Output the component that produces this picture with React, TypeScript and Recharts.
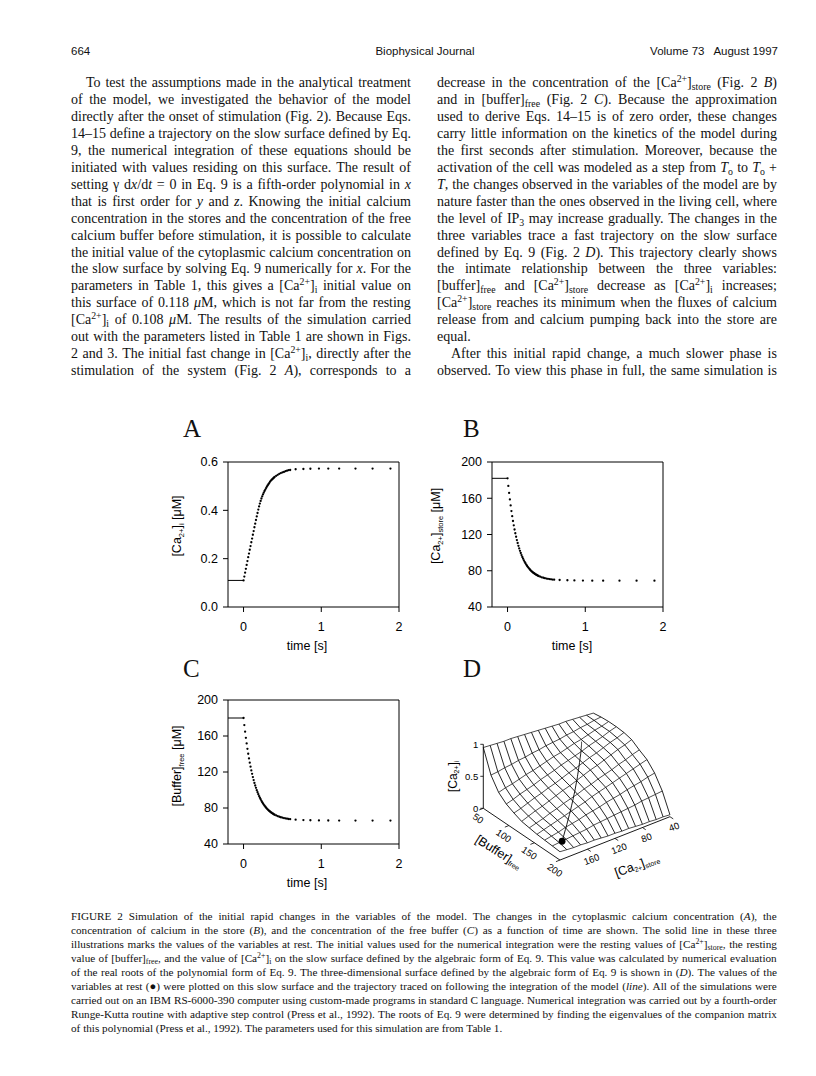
import React from "react";
import { ScatterChart, Scatter, XAxis, YAxis, ReferenceLine } from "recharts";

// ---- Fig. 2 A-C: time courses after stimulation (adaptive step, dense in the first 0.6 s)
const times = [
  0, 0.01, 0.02, 0.03, 0.04, 0.05, 0.06, 0.07, 0.08, 0.09, 0.1, 0.11, 0.12, 0.13, 0.14, 0.15, 0.16, 0.17,
  0.18, 0.19, 0.2, 0.21, 0.22, 0.23, 0.24, 0.25, 0.26, 0.27, 0.28, 0.29, 0.3, 0.31, 0.32, 0.33, 0.34, 0.35,
  0.36, 0.37, 0.38, 0.39, 0.4, 0.42, 0.44, 0.46, 0.48, 0.5, 0.52, 0.54, 0.56, 0.58, 0.6, 0.67, 0.77, 0.86,
  0.97, 1.09, 1.23, 1.44, 1.66, 1.89,
];
// [Ca2+]i, uM
const caCyto = [
  0.11, 0.126, 0.142, 0.158, 0.174, 0.19, 0.206, 0.221, 0.237, 0.252, 0.268, 0.283, 0.299, 0.314, 0.33, 0.345,
  0.36, 0.375, 0.389, 0.403, 0.416, 0.428, 0.439, 0.449, 0.458, 0.466, 0.473, 0.48, 0.486, 0.492, 0.498, 0.503,
  0.508, 0.513, 0.518, 0.522, 0.526, 0.529, 0.532, 0.535, 0.538, 0.543, 0.547, 0.551, 0.554, 0.557, 0.559,
  0.562, 0.564, 0.566, 0.567, 0.57, 0.571, 0.572, 0.573, 0.573, 0.573, 0.573, 0.573, 0.573,
];
// [Ca2+]store, uM
const caStore = [
  182, 173.6, 165.9, 158.7, 152.1, 145.9, 140.2, 134.9, 130.1, 125.5, 121.4, 117.5, 113.9, 110.6, 107.5, 104.6,
  102, 99.6, 97.3, 95.2, 93.3, 91.5, 89.8, 88.3, 86.8, 85.5, 84.3, 83.2, 82.1, 81.1, 80.2, 79.4, 78.6, 77.9,
  77.3, 76.7, 76.1, 75.6, 75.1, 74.6, 74.2, 73.5, 72.8, 72.3, 71.8, 71.4, 71.1, 70.8, 70.5, 70.3, 70.1, 69.8,
  69.5, 69.3, 69.2, 69.1, 69, 69, 69, 69,
];
// [Buffer]free, uM
const bufferFree = [
  180, 172.1, 164.8, 158, 151.7, 145.8, 140.3, 135.1, 130.4, 125.9, 121.8, 118, 114.4, 111, 107.9, 105, 102.4,
  99.8, 97.5, 95.3, 93.3, 91.4, 89.7, 88, 86.5, 85.1, 83.8, 82.6, 81.4, 80.4, 79.4, 78.5, 77.6, 76.8, 76.1,
  75.4, 74.7, 74.1, 73.6, 73, 72.5, 71.7, 70.9, 70.3, 69.7, 69.2, 68.8, 68.4, 68.1, 67.8, 67.6, 67, 66.6, 66.4,
  66.2, 66.1, 66, 66, 66, 66,
];
const restTimes = [-0.2, 0];
const restCa = 0.11;
const restStore = 182;
const restBuffer = 180;

const timeTicks = [0, 1, 2];
const caTicks = [0, 0.2, 0.4, 0.6];
const concTicks = [40, 80, 120, 160, 200];

// ---- Fig. 2 D: slow surface, [Ca2+]i over ([Buffer]free, [Ca2+]store)
const meshBuffer = [50, 65, 80, 95, 110, 125, 140, 155, 170, 185, 200];
const meshStore = [200, 190, 180, 170, 160, 150, 140, 130, 120, 110, 100, 90, 80, 70, 60, 50, 40];
const meshCa = [
  [0.95, 0.94, 0.93, 0.92, 0.92, 0.91, 0.9, 0.89, 0.88, 0.87, 0.86, 0.85, 0.85, 0.84, 0.83, 0.82, 0.81],
  [0.6, 0.61, 0.63, 0.64, 0.66, 0.67, 0.69, 0.7, 0.72, 0.73, 0.74, 0.76, 0.77, 0.79, 0.8, 0.82, 0.83],
  [0.41, 0.44, 0.46, 0.49, 0.52, 0.54, 0.57, 0.6, 0.63, 0.65, 0.68, 0.71, 0.73, 0.76, 0.79, 0.81, 0.84],
  [0.31, 0.34, 0.38, 0.41, 0.44, 0.48, 0.51, 0.54, 0.58, 0.61, 0.64, 0.67, 0.71, 0.74, 0.77, 0.81, 0.84],
  [0.25, 0.28, 0.32, 0.36, 0.39, 0.43, 0.46, 0.5, 0.54, 0.57, 0.61, 0.65, 0.68, 0.72, 0.76, 0.79, 0.83],
  [0.2, 0.24, 0.28, 0.31, 0.35, 0.39, 0.43, 0.46, 0.5, 0.54, 0.58, 0.61, 0.65, 0.69, 0.73, 0.76, 0.8],
  [0.18, 0.21, 0.24, 0.28, 0.31, 0.35, 0.38, 0.41, 0.45, 0.48, 0.52, 0.55, 0.58, 0.62, 0.65, 0.69, 0.72],
  [0.16, 0.19, 0.22, 0.25, 0.28, 0.31, 0.34, 0.37, 0.41, 0.44, 0.47, 0.5, 0.53, 0.56, 0.59, 0.62, 0.65],
  [0.15, 0.17, 0.19, 0.22, 0.24, 0.26, 0.29, 0.31, 0.33, 0.36, 0.38, 0.4, 0.43, 0.45, 0.47, 0.5, 0.52],
  [0.14, 0.15, 0.16, 0.17, 0.18, 0.19, 0.21, 0.22, 0.23, 0.24, 0.25, 0.26, 0.27, 0.29, 0.3, 0.31, 0.32],
  [0.13, 0.12, 0.11, 0.11, 0.1, 0.1, 0.09, 0.08, 0.08, 0.07, 0.07, 0.06, 0.05, 0.05, 0.04, 0.04, 0.03],
];
const zTicks = [0, 0.5, 1];
const bufferTicks = [50, 100, 150, 200];
const storeTicks = [160, 120, 80, 40];

// ---- page text
const leftColumn = [
  "To test the assumptions made in the analytical treatment",
  "of the model, we investigated the behavior of the model",
  "directly after the onset of stimulation (Fig. 2). Because Eqs.",
  "14–15 define a trajectory on the slow surface defined by Eq.",
  "9, the numerical integration of these equations should be",
  "initiated with values residing on this surface. The result of",
  "setting γ d*x*/d*t* = 0 in Eq. 9 is a fifth-order polynomial in *x*",
  "that is first order for *y* and *z*. Knowing the initial calcium",
  "concentration in the stores and the concentration of the free",
  "calcium buffer before stimulation, it is possible to calculate",
  "the initial value of the cytoplasmic calcium concentration on",
  "the slow surface by solving Eq. 9 numerically for *x*. For the",
  "parameters in Table 1, this gives a [Ca^{2+}]_{i} initial value on",
  "this surface of 0.118 *μ*M, which is not far from the resting",
  "[Ca^{2+}]_{i} of 0.108 *μ*M. The results of the simulation carried",
  "out with the parameters listed in Table 1 are shown in Figs.",
  "2 and 3. The initial fast change in [Ca^{2+}]_{i}, directly after the",
  "stimulation of the system (Fig. 2 *A*), corresponds to a",
];
const rightColumn = [
  "decrease in the concentration of the [Ca^{2+}]_{store} (Fig. 2 *B*)",
  "and in [buffer]_{free} (Fig. 2 *C*). Because the approximation",
  "used to derive Eqs. 14–15 is of zero order, these changes",
  "carry little information on the kinetics of the model during",
  "the first seconds after stimulation. Moreover, because the",
  "activation of the cell was modeled as a step from *T*_{o} to *T*_{o} +",
  "*T*, the changes observed in the variables of the model are by",
  "nature faster than the ones observed in the living cell, where",
  "the level of IP_{3} may increase gradually. The changes in the",
  "three variables trace a fast trajectory on the slow surface",
  "defined by Eq. 9 (Fig. 2 *D*). This trajectory clearly shows",
  "the intimate relationship between the three variables:",
  "[buffer]_{free} and [Ca^{2+}]_{store} decrease as [Ca^{2+}]_{i} increases;",
  "[Ca^{2+}]_{store} reaches its minimum when the fluxes of calcium",
  "release from and calcium pumping back into the store are",
  "equal.",
  "After this initial rapid change, a much slower phase is",
  "observed. To view this phase in full, the same simulation is",
];
const captionLines = [
  "FIGURE 2  Simulation of the initial rapid changes in the variables of the model. The changes in the cytoplasmic calcium concentration (*A*), the",
  "concentration of calcium in the store (*B*), and the concentration of the free buffer (*C*) as a function of time are shown. The solid line in these three",
  "illustrations marks the values of the variables at rest. The initial values used for the numerical integration were the resting values of [Ca^{2+}]_{store}, the resting",
  "value of [buffer]_{free}, and the value of [Ca^{2+}]_{i} on the slow surface defined by the algebraic form of Eq. 9. This value was calculated by numerical evaluation",
  "of the real roots of the polynomial form of Eq. 9. The three-dimensional surface defined by the algebraic form of Eq. 9 is shown in (*D*). The values of the",
  "variables at rest (●) were plotted on this slow surface and the trajectory traced on following the integration of the model (*line*). All of the simulations were",
  "carried out on an IBM RS-6000-390 computer using custom-made programs in standard C language. Numerical integration was carried out by a fourth-order",
  "Runge-Kutta routine with adaptive step control (Press et al., 1992). The roots of Eq. 9 were determined by finding the eigenvalues of the companion matrix",
  "of this polynomial (Press et al., 1992). The parameters used for this simulation are from Table 1.",
];

const sans = '"Liberation Sans", Arial, Helvetica, sans-serif';
const serif = '"Liberation Serif", "Times New Roman", Times, serif';
const ink = "#111";

// tiny markup: ^{sup} _{sub} *italic*
function Word({ w }: { w: string }) {
  const parts = w.split(/(\^\{[^}]*\}|_\{[^}]*\}|\*[^*]+\*)/).filter(Boolean);
  return (
    <span>
      {parts.map((p, i) => {
        if (p.startsWith("^{"))
          return (
            <span key={i} style={{ fontSize: "0.7em", verticalAlign: "0.5em", lineHeight: 0 }}>
              {p.slice(2, -1)}
            </span>
          );
        if (p.startsWith("_{"))
          return (
            <span key={i} style={{ fontSize: "0.7em", verticalAlign: "-0.3em", lineHeight: 0 }}>
              {p.slice(2, -1)}
            </span>
          );
        if (p.length > 2 && p.startsWith("*")) return <i key={i}>{p.slice(1, -1)}</i>;
        return <React.Fragment key={i}>{p}</React.Fragment>;
      })}
    </span>
  );
}

function TextLine({ text, left, top, width, size, lh, ragged }: any) {
  const words = text.split(" ").filter(Boolean);
  return (
    <div
      style={{
        position: "absolute",
        left,
        top,
        width,
        height: lh,
        lineHeight: `${lh}px`,
        fontSize: size,
        display: "flex",
        alignItems: "baseline",
        justifyContent: ragged ? "flex-start" : "space-between",
        columnGap: ragged ? "0.25em" : 0,
        whiteSpace: "nowrap",
      }}
    >
      {words.map((w: string, i: number) => (
        <Word key={i} w={w} />
      ))}
    </div>
  );
}

function Dot(p: any) {
  return <circle cx={p.cx} cy={p.cy} r={1.15} fill="#000" />;
}
function Nothing() {
  return <g />;
}

const PLOT_W = 171;
const AXIS_W = 70;

function TimePanel({ values, rest, domain, ticks, fmt, plotLeft, plotTop, plotH }: any) {
  const pts = times.map((t, i) => ({ t, v: values[i] }));
  const restPts = restTimes.map((t) => ({ t, v: rest }));
  const tickStyle = { fill: "#000", fontSize: 12.5, fontFamily: sans };
  return (
    <div style={{ position: "absolute", left: plotLeft - AXIS_W, top: plotTop - 10 }}>
      <ScatterChart
        width={AXIS_W + PLOT_W + 10}
        height={plotH + 10 + 45}
        margin={{ top: 10, right: 10, bottom: 0, left: 0 }}
      >
        <XAxis
          type="number"
          dataKey="t"
          domain={[-0.2, 2]}
          ticks={timeTicks}
          allowDataOverflow
          height={45}
          tickSize={5}
          tickMargin={10}
          stroke="#000"
          tick={tickStyle}
        />
        <YAxis
          type="number"
          dataKey="v"
          domain={domain}
          ticks={ticks}
          allowDataOverflow
          width={AXIS_W}
          tickSize={5}
          tickMargin={5}
          stroke="#000"
          tick={tickStyle}
          tickFormatter={fmt}
        />
        <ReferenceLine y={domain[1]} stroke="#000" />
        <ReferenceLine x={2} stroke="#000" />
        <Scatter
          data={restPts}
          fill="#000"
          line={{ stroke: "#000", strokeWidth: 1 }}
          shape={Nothing}
          isAnimationActive={false}
        />
        <Scatter data={pts} fill="#000" shape={Dot} isAnimationActive={false} />
      </ScatterChart>
    </div>
  );
}

// ---- 3D view for panel D (data units of the hidden 240 x 200 plane)
const view = { x0: 43.3, y0: 81.7, bx: 0.511, by: -0.345, sx: 0.6875, sy: 0.271, zy: 64 };
function project(b: number, s: number, z: number) {
  return {
    x: view.x0 + (b - 50) * view.bx + (200 - s) * view.sx,
    y: view.y0 + (b - 50) * view.by + (200 - s) * view.sy + z * view.zy,
  };
}

function ZTick(p: any) {
  return (
    <g>
      <line x1={p.cx - 3} y1={p.cy} x2={p.cx} y2={p.cy} stroke="#000" strokeWidth={0.8} />
      <text x={p.cx - 5} y={p.cy} textAnchor="end" dominantBaseline="central" fontSize={9.5} fontFamily={sans} fill="#000">
        {p.payload.label}
      </text>
    </g>
  );
}
function BufferTick(p: any) {
  const x = p.cx - 5;
  const y = p.cy + 10;
  return (
    <g>
      <line x1={p.cx} y1={p.cy} x2={p.cx - 4} y2={p.cy + 1.6} stroke="#000" strokeWidth={0.8} />
      <text x={x} y={y} transform={`rotate(34 ${x} ${y})`} textAnchor="middle" dominantBaseline="central" fontSize={9.5} fontFamily={sans} fill="#000">
        {p.payload.label}
      </text>
    </g>
  );
}
function StoreTick(p: any) {
  const x = p.cx + 4;
  const y = p.cy + 10;
  return (
    <g>
      <line x1={p.cx} y1={p.cy} x2={p.cx + 3.3} y2={p.cy + 2.2} stroke="#000" strokeWidth={0.8} />
      <text x={x} y={y} transform={`rotate(-21 ${x} ${y})`} textAnchor="middle" dominantBaseline="central" fontSize={9.5} fontFamily={sans} fill="#000">
        {p.payload.label}
      </text>
    </g>
  );
}
function ZTitle(p: any) {
  const x = p.cx - 30;
  const y = p.cy;
  return (
    <text transform={`translate(${x},${y}) rotate(-90)`} textAnchor="middle" dominantBaseline="central" fontSize={12} fontFamily={sans} fill="#000">
      [Ca<tspan fontSize={7} dy={3}>2+</tspan>
      <tspan dy={-3}>]</tspan>
      <tspan fontSize={7} dy={3}>i</tspan>
    </text>
  );
}
function BufferTitle(p: any) {
  const x = p.cx - 23;
  const y = p.cy + 18;
  return (
    <text transform={`translate(${x},${y}) rotate(32)`} textAnchor="middle" dominantBaseline="central" fontSize={12.5} fontFamily={sans} fill="#000">
      [Buffer]<tspan fontSize={7} dy={3}>free</tspan>
    </text>
  );
}
function StoreTitle(p: any) {
  const x = p.cx + 22;
  const y = p.cy + 27;
  return (
    <text transform={`translate(${x},${y}) rotate(-20)`} textAnchor="middle" dominantBaseline="central" fontSize={12.5} fontFamily={sans} fill="#000">
      [Ca<tspan fontSize={7} dy={3}>2+</tspan>
      <tspan dy={-3}>]</tspan>
      <tspan fontSize={7} dy={3}>store</tspan>
    </text>
  );
}
function RestDot(p: any) {
  return <circle cx={p.cx} cy={p.cy} r={3.4} fill="#000" />;
}

function SurfacePanel() {
  const rows = meshBuffer.map((b, i) => meshStore.map((s, j) => project(b, s, meshCa[i][j])));
  const cols = meshStore.map((s, j) => meshBuffer.map((b, i) => project(b, s, meshCa[i][j])));
  const zAxis = [project(50, 200, 0), project(50, 200, 1)];
  const bAxis = [project(50, 200, 0), project(200, 200, 0)];
  const sAxis = [project(200, 200, 0), project(200, 40, 0)];
  const traj = times.map((_, i) => project(bufferFree[i], caStore[i], caCyto[i]));
  const rowLine = { stroke: "#000", strokeWidth: 0.7 };
  const colLine = { stroke: "#000", strokeWidth: 0.85 };
  const axisLine = { stroke: "#000", strokeWidth: 0.9 };
  return (
    <div style={{ position: "absolute", left: 440, top: 690 }}>
      <ScatterChart width={240} height={200} margin={{ top: 0, right: 0, bottom: 0, left: 0 }}>
        <XAxis type="number" dataKey="x" domain={[0, 240]} allowDataOverflow hide />
        <YAxis type="number" dataKey="y" domain={[0, 200]} allowDataOverflow hide />
        <Scatter data={zAxis} fill="#000" line={axisLine} shape={Nothing} isAnimationActive={false} />
        <Scatter data={bAxis} fill="#000" line={axisLine} shape={Nothing} isAnimationActive={false} />
        <Scatter data={sAxis} fill="#000" line={axisLine} shape={Nothing} isAnimationActive={false} />
        {rows.map((pts, i) => (
          <Scatter key={`r${i}`} data={pts} fill="#000" line={rowLine} shape={Nothing} isAnimationActive={false} />
        ))}
        {cols.map((pts, i) => (
          <Scatter key={`c${i}`} data={pts} fill="#000" line={colLine} shape={Nothing} isAnimationActive={false} />
        ))}
        <Scatter data={traj} fill="#000" line={{ stroke: "#000", strokeWidth: 0.9 }} shape={Nothing} isAnimationActive={false} />
        <Scatter data={[project(restBuffer, restStore, restCa)]} fill="#000" shape={RestDot} isAnimationActive={false} />
        <Scatter
          data={zTicks.map((z) => ({ ...project(50, 200, z), label: String(z) }))}
          fill="#000"
          shape={ZTick}
          isAnimationActive={false}
        />
        <Scatter
          data={bufferTicks.map((b) => ({ ...project(b, 200, 0), label: String(b) }))}
          fill="#000"
          shape={BufferTick}
          isAnimationActive={false}
        />
        <Scatter
          data={storeTicks.map((s) => ({ ...project(200, s, 0), label: String(s) }))}
          fill="#000"
          shape={StoreTick}
          isAnimationActive={false}
        />
        <Scatter data={[project(50, 200, 0.5)]} fill="#000" shape={ZTitle} isAnimationActive={false} />
        <Scatter data={[project(125, 200, 0)]} fill="#000" shape={BufferTitle} isAnimationActive={false} />
        <Scatter data={[project(200, 120, 0)]} fill="#000" shape={StoreTitle} isAnimationActive={false} />
      </ScatterChart>
    </div>
  );
}

const sub = { fontSize: "0.6em", verticalAlign: "-0.35em", lineHeight: 0 } as const;

function YTitle({ cx, cy, children }: any) {
  return (
    <div
      style={{
        position: "absolute",
        left: cx,
        top: cy,
        transform: "translate(-50%, -50%) rotate(-90deg)",
        whiteSpace: "nowrap",
        fontFamily: sans,
        fontSize: 12.5,
        lineHeight: "14px",
        color: "#000",
      }}
    >
      {children}
    </div>
  );
}
function TimeTitle({ cx, cy }: any) {
  return (
    <div
      style={{
        position: "absolute",
        left: cx,
        top: cy,
        transform: "translate(-50%, -50%)",
        whiteSpace: "nowrap",
        fontFamily: sans,
        fontSize: 12.5,
        lineHeight: "14px",
        color: "#000",
      }}
    >
      time [s]
    </div>
  );
}
function Letter({ x, top, children }: any) {
  return (
    <div style={{ position: "absolute", left: x, top, fontFamily: serif, fontSize: 25, lineHeight: "25px", color: ink }}>
      {children}
    </div>
  );
}

export default function App() {
  const bodyStep = 16.94;
  const capStep = 14;
  return (
    <div
      style={{
        position: "absolute",
        left: 0,
        top: 0,
        width: 816,
        height: 1076,
        background: "#fff",
        overflow: "hidden",
        color: ink,
        fontFamily: serif,
      }}
    >
      {/* running head */}
      <div style={{ position: "absolute", left: 71, top: 44, fontFamily: sans, fontSize: 11.5, lineHeight: "14px" }}>664</div>
      <div style={{ position: "absolute", left: 325, top: 44, width: 200, textAlign: "center", fontFamily: sans, fontSize: 11.5, lineHeight: "14px" }}>
        Biophysical Journal
      </div>
      <div style={{ position: "absolute", left: 478, top: 44, width: 300, textAlign: "right", fontFamily: sans, fontSize: 11.5, lineHeight: "14px", whiteSpace: "pre" }}>
        {"Volume 73   August 1997"}
      </div>

      {leftColumn.map((t, i) => (
        <TextLine key={`l${i}`} text={t} left={i === 0 ? 86 : 71} width={i === 0 ? 325 : 340} top={75.1 + i * bodyStep} size={14} lh={bodyStep} />
      ))}
      {rightColumn.map((t, i) => (
        <TextLine
          key={`r${i}`}
          text={t}
          left={i === 16 ? 451 : 437}
          width={i === 16 ? 326 : 340}
          top={75.1 + i * bodyStep}
          size={14}
          lh={bodyStep}
          ragged={i === 15}
        />
      ))}

      {/* panel letters */}
      <Letter x={183} top={416}>A</Letter>
      <Letter x={463} top={416}>B</Letter>
      <Letter x={183} top={656}>C</Letter>
      <Letter x={463} top={656}>D</Letter>

      <TimePanel values={caCyto} rest={restCa} domain={[0, 0.6]} ticks={caTicks} fmt={(v: number) => v.toFixed(1)} plotLeft={228} plotTop={462} plotH={145} />
      <TimePanel values={caStore} rest={restStore} domain={[40, 200]} ticks={concTicks} plotLeft={492} plotTop={462} plotH={145} />
      <TimePanel values={bufferFree} rest={restBuffer} domain={[40, 200]} ticks={concTicks} plotLeft={228} plotTop={700} plotH={144} />

      <YTitle cx={177} cy={526}>
        [Ca<span style={sub}>2+</span>]<span style={sub}>i</span> [μM]
      </YTitle>
      <YTitle cx={436} cy={526}>
        [Ca<span style={sub}>2+</span>]<span style={sub}>store</span> [μM]
      </YTitle>
      <YTitle cx={177} cy={766}>
        [Buffer]<span style={sub}>free</span> [μM]
      </YTitle>
      <TimeTitle cx={307} cy={646} />
      <TimeTitle cx={572} cy={646} />
      <TimeTitle cx={307} cy={883} />

      <SurfacePanel />

      {captionLines.map((t, i) => (
        <TextLine key={`c${i}`} text={t} left={71} width={706} top={909.1 + i * capStep} size={11.2} lh={capStep} ragged={i === captionLines.length - 1} />
      ))}
    </div>
  );
}
